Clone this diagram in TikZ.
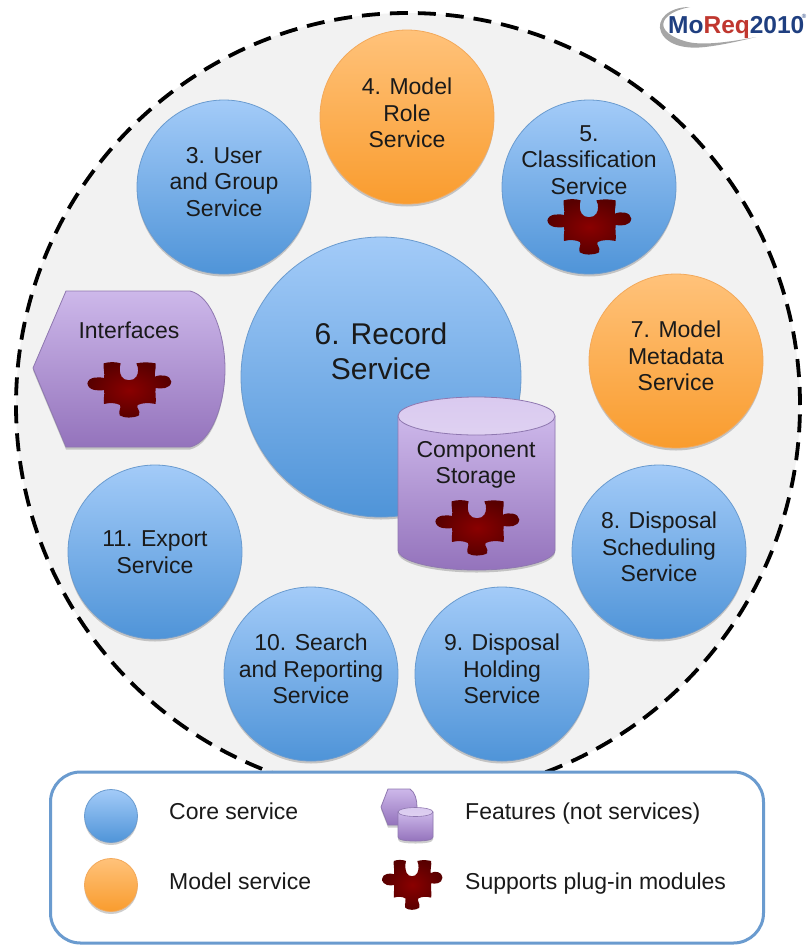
\documentclass[tikz,border=0pt]{standalone}
\usepackage{fontspec}
\setmainfont{Liberation Sans}
\usetikzlibrary{shadows,fadings,shapes.geometric}
\definecolor{blueTop}{HTML}{A3CBF8}
\definecolor{blueBot}{HTML}{4F94D8}
\definecolor{blueEdge}{HTML}{6A9BCF}
\definecolor{orTop}{HTML}{FFC27A}
\definecolor{orBot}{HTML}{F99C2E}
\definecolor{orEdge}{HTML}{F3A95A}
\definecolor{puTop}{HTML}{CDB8EA}
\definecolor{puBot}{HTML}{9473BC}
\definecolor{puEdge}{HTML}{8F78B0}
\definecolor{ink}{HTML}{1A1A1A}
\definecolor{logoBlue}{HTML}{1F3F80}
\definecolor{logoRed}{HTML}{C0372F}
\definecolor{pzIn}{HTML}{8A0000}
\definecolor{pzOut}{HTML}{580000}
\tikzset{
  x=1pt,y=-1pt,
  softshadow/.style={drop shadow={shadow xshift=0pt,shadow yshift=-2.5pt,opacity=.28,fill=black!70}},
  core/.style={circle,inner sep=0pt,minimum size=174pt,draw=blueEdge,line width=.8pt,top color=blueTop,bottom color=blueBot,softshadow},
  model/.style={circle,inner sep=0pt,minimum size=174pt,draw=orEdge,line width=.8pt,top color=orTop,bottom color=orBot,softshadow},
  label/.style={align=center,text=ink,inner sep=0pt,font=\fontsize{23}{26.5}\selectfont},
  legendtext/.style={anchor=base west,inner sep=0pt,text=ink,font=\fontsize{23}{26}\selectfont},
  feature/.style={draw=puEdge,line width=.8pt,top color=puTop,bottom color=puBot,softshadow},
  puzzle/.pic={
    \shade[inner color=pzIn,outer color=pzOut]
    (-76,-80) .. controls (-60,-85) and (-40,-85) .. (-25,-80)
    .. controls (-30,-65) and (-28,-50) .. (-22,-40)
    .. controls (-15,-26) and (15,-26) .. (22,-40)
    .. controls (28,-50) and (30,-65) .. (22,-80)
    .. controls (40,-84) and (60,-84) .. (80,-80)
    .. controls (82,-65) and (76,-55) .. (78,-40)
    .. controls (95,-48) and (125,-45) .. (127,-25)
    .. controls (125,-3) and (95,-3) .. (80,-6)
    .. controls (78,10) and (82,25) .. (80,42)
    .. controls (60,38) and (40,38) .. (26,45)
    .. controls (20,55) and (36,60) .. (30,76)
    .. controls (15,85) and (-15,85) .. (-28,76)
    .. controls (-33,60) and (-22,55) .. (-27,45)
    .. controls (-40,38) and (-60,38) .. (-75,42)
    .. controls (-78,25) and (-72,15) .. (-75,0)
    .. controls (-90,3) and (-122,3) .. (-125,-20)
    .. controls (-122,-40) and (-90,-40) .. (-75,-36)
    .. controls (-72,-50) and (-78,-65) .. (-76,-80) -- cycle;
  }
}
\begin{document}
\begin{tikzpicture}
\useasboundingbox (0,0) rectangle (807,945);
\fill[white] (0,0) rectangle (807,945);
% outer boundary
\node[circle,inner sep=0pt,minimum size=784pt,draw=black,line width=3.8pt,fill=black!5,dash pattern=on 18pt off 10pt] (boundary) at (408,405) {};
% services
\node[core] (s3) at (224,187) {};
\node[model] (s4) at (407,117) {};
\node[core] (s5) at (589,187) {};
\node[core,minimum size=280pt] (s6) at (381,377) {};
\node[model] (s7) at (676,361) {};
\node[core] (s8) at (659,552) {};
\node[core] (s9) at (502,674) {};
\node[core] (s10) at (311,674) {};
\node[core] (s11) at (155,552) {};
\node[label] (t3) at (224,182) {3. User\\and Group\\Service};
\node[label] (t4) at (407,113) {4. Model\\Role\\Service};
\node[label] (t5) at (589,160) {5.\\Classification\\Service};
\node[label,font=\fontsize{30}{35}\selectfont] (t6) at (381,351) {6. Record\\Service};
\node[label] (t7) at (676,356) {7. Model\\Metadata\\Service};
\node[label] (t8) at (659,547) {8. Disposal\\Scheduling\\Service};
\node[label] (t9) at (502,669) {9. Disposal\\Holding\\Service};
\node[label] (t10) at (311,669) {10. Search\\and Reporting\\Service};
\node[label] (t11) at (155,552) {11. Export\\Service};
\pic[scale=.333] at (589,227) {puzzle};
% interfaces
\path[feature] (33,368) -- (66,291) -- (190,291) .. controls (212,296) and (225,335) .. (225,369) .. controls (225,403) and (212,442) .. (190,447) -- (66,447) -- cycle;
\node[label] (tif) at (129,330) {Interfaces};
% storage
\path[feature] (398,416) -- (398,550) .. controls (398,561) and (433,570) .. (476.5,570) .. controls (520,570) and (555,561) .. (555,550) -- (555,416) -- cycle;
\node[ellipse,inner sep=0pt,minimum width=157pt,minimum height=38pt,draw=puEdge,line width=.8pt,top color=puTop!75!white,bottom color=puTop!65!white] (cyltop) at (476.5,416) {};
\node[label] (tcs) at (476,465) {Component\\Storage};
% legend
\node[draw=blueEdge,line width=3pt,fill=white,rounded corners=30pt,minimum width=713pt,minimum height=171pt,inner sep=0pt] (legend) at (407,857.5) {};
\node[core,minimum size=53pt] (lcore) at (111,816) {};
\node[model,minimum size=53pt] (lmodel) at (111,885) {};
\node[legendtext] (lt1) at (169,819) {Core service};
\node[legendtext] (lt2) at (169,889) {Model service};
\node[legendtext] (lt3) at (465,819) {Features (not services)};
\node[legendtext] (lt4) at (465,889) {Supports plug-in modules};
\path[feature] (381,807) -- (388,789) -- (410,789) .. controls (415,792) and (417,800) .. (417,807) .. controls (417,814) and (415,822) .. (410,825) -- (388,825) -- cycle;
\path[feature] (398,812) -- (398,837) .. controls (398,840) and (406,841) .. (415.5,841) .. controls (425,841) and (433,840) .. (433,837) -- (433,812) -- cycle;
\node[ellipse,inner sep=0pt,minimum width=35pt,minimum height=9pt,draw=puEdge,line width=.6pt,top color=puTop!75!white,bottom color=puTop!65!white] (ltop) at (415.5,812) {};
\pic[xscale=.24,yscale=.3] at (412,885) {puzzle};
% logo
\fill[black!35] (690,7) .. controls (668,7) and (656,20) .. (661,32) .. controls (665,42) and (680,50) .. (705,47) .. controls (722,45) and (740,41) .. (756,37) .. controls (735,41) and (705,46) .. (688,42) .. controls (672,38) and (660,30) .. (664,21) .. controls (668,13) and (680,9) .. (690,7) -- cycle;
\node[anchor=west,inner sep=0pt,font=\bfseries\fontsize{24.5}{27}\selectfont] (logo) at (668,27) {\textcolor{logoBlue}{Mo}\textcolor{logoRed}{Req}\textcolor{logoBlue}{2010}};
\node[inner sep=0pt,font=\fontsize{6}{7}\selectfont,text=logoBlue] (reg) at (804,16) {®};
% puzzles over features
\pic[scale=.333] at (129,390) {puzzle};
\pic[scale=.333] at (477,528) {puzzle};
\end{tikzpicture}
\end{document}
